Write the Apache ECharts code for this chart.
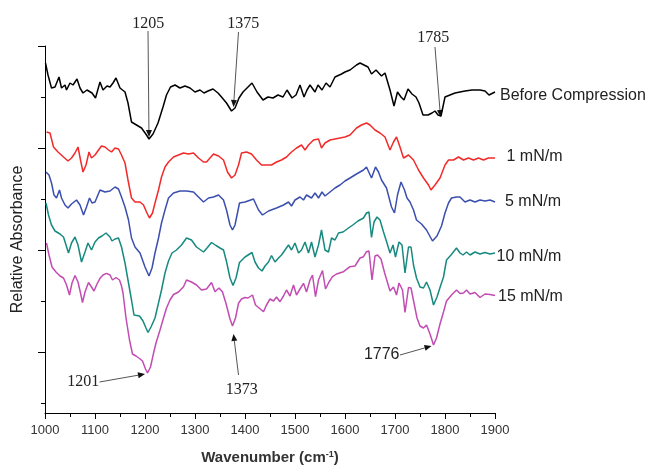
<!DOCTYPE html>
<html>
<head>
<meta charset="utf-8">
<script src="https://cdn.jsdelivr.net/npm/echarts@6/dist/echarts.min.js"></script>
<style>
html,body{margin:0;padding:0;background:#fff;}
#chart{width:653px;height:466px;}
</style>
</head>
<body>
<div id="chart"></div>
<script>
// Wavenumber axis ticks (cm^-1)
const xTicks = [1000, 1100, 1200, 1300, 1400, 1500, 1600, 1700, 1800, 1900];
// Relative absorbance (arbitrary, offset) tick positions
const yMajorTicks = [61, 163, 265, 367];
const yMinorTicks = [10, 112, 214, 316];

const seriesNames = ['Before Compression', '1 mN/m', '5 mN/m', '10 mN/m', '15 mN/m'];

// [wavenumber, relative absorbance (offset)]
const beforeCompression = [[1001,350],[1006,338],[1013,325],[1020,326],[1028,336],[1033,325],[1040,328],[1043,323],[1050,330],[1056,328],[1064,334],[1070,325],[1076,320],[1084,323],[1094,320],[1101,315],[1110,331],[1116,323],[1124,327],[1130,326],[1136,330],[1142,335],[1150,325],[1160,321],[1166,310],[1173,291],[1183,288],[1193,285],[1203,278],[1208,274],[1216,279],[1226,290],[1236,306],[1243,318],[1251,326],[1260,328],[1270,325],[1280,327],[1290,325],[1300,321],[1310,323],[1318,320],[1326,322],[1336,324],[1346,320],[1353,316],[1363,310],[1373,302],[1380,305],[1388,315],[1396,321],[1406,326],[1414,330],[1424,321],[1436,313],[1446,316],[1456,315],[1466,318],[1476,316],[1484,323],[1494,315],[1502,318],[1510,328],[1518,316],[1524,323],[1530,328],[1540,321],[1546,328],[1554,323],[1562,330],[1570,326],[1580,336],[1593,339],[1600,341],[1610,343],[1623,348],[1630,350],[1646,346],[1653,339],[1662,343],[1673,337],[1680,340],[1690,323],[1698,307],[1705,321],[1712,316],[1718,313],[1726,324],[1734,319],[1742,316],[1748,310],[1756,298],[1766,298],[1774,300],[1780,302],[1786,298],[1792,297],[1800,316],[1810,318],[1820,320],[1840,322],[1854,323],[1870,323],[1880,322],[1888,318],[1900,321]];

const p1 = [[1003,281],[1010,280],[1017,266],[1026,261],[1037,256],[1046,252],[1053,255],[1060,260],[1066,266],[1071,253],[1076,241],[1082,248],[1088,261],[1093,255],[1100,258],[1107,263],[1113,267],[1120,266],[1127,263],[1133,261],[1140,265],[1147,264],[1153,258],[1160,250],[1166,233],[1173,215],[1180,211],[1190,211],[1197,208],[1203,201],[1209,195],[1215,200],[1220,210],[1227,223],[1233,236],[1240,246],[1247,251],[1257,256],[1267,258],[1277,260],[1287,259],[1297,260],[1307,255],[1317,251],[1323,251],[1337,259],[1347,257],[1357,253],[1365,241],[1373,235],[1380,238],[1387,248],[1393,260],[1403,261],[1413,259],[1423,253],[1433,248],[1443,248],[1453,248],[1463,251],[1473,253],[1483,256],[1493,261],[1503,265],[1513,268],[1520,263],[1527,268],[1537,273],[1547,274],[1553,265],[1560,270],[1570,273],[1580,274],[1590,275],[1600,276],[1610,278],[1623,285],[1633,288],[1643,290],[1650,288],[1660,283],[1670,280],[1680,276],[1690,263],[1697,271],[1703,276],[1710,266],[1717,255],[1727,258],[1737,253],[1747,243],[1757,235],[1767,228],[1772,223],[1780,228],[1790,235],[1800,248],[1807,253],[1817,253],[1827,256],[1837,253],[1847,255],[1857,253],[1867,255],[1877,253],[1887,255],[1900,255]];

const p5 = [[1002,241],[1008,238],[1013,230],[1018,218],[1023,215],[1029,223],[1033,215],[1040,208],[1046,205],[1053,209],[1063,213],[1070,208],[1077,198],[1083,206],[1089,215],[1094,210],[1100,211],[1110,223],[1120,221],[1130,222],[1140,226],[1147,224],[1153,216],[1160,206],[1167,193],[1173,175],[1180,166],[1190,160],[1200,146],[1208,137],[1214,145],[1220,160],[1227,175],[1233,190],[1240,203],[1247,215],[1257,220],[1270,222],[1283,222],[1297,221],[1307,216],[1317,211],[1327,215],[1337,216],[1347,218],[1357,213],[1363,203],[1370,188],[1375,183],[1380,188],[1389,210],[1400,211],[1417,214],[1427,203],[1435,198],[1447,202],[1463,205],[1477,208],[1487,211],[1493,207],[1500,213],[1510,216],[1517,213],[1523,218],[1533,215],[1540,220],[1547,215],[1554,221],[1560,217],[1570,221],[1580,225],[1590,228],[1600,232],[1610,235],[1623,239],[1637,243],[1643,246],[1653,235],[1661,246],[1667,241],[1673,233],[1683,225],[1693,206],[1699,200],[1705,218],[1712,231],[1719,223],[1724,215],[1730,211],[1737,203],[1743,193],[1753,189],[1763,183],[1775,172],[1784,177],[1793,187],[1800,200],[1807,210],[1813,215],[1823,216],[1830,216],[1840,211],[1850,213],[1860,211],[1870,213],[1880,212],[1890,213],[1900,211]];

const p10 = [[1002,210],[1007,198],[1013,188],[1020,182],[1030,179],[1037,176],[1042,168],[1047,160],[1053,170],[1060,176],[1066,168],[1073,151],[1080,161],[1086,170],[1093,163],[1100,171],[1107,175],[1114,177],[1122,180],[1130,176],[1134,172],[1140,174],[1147,175],[1153,166],[1160,150],[1167,130],[1173,113],[1178,98],[1189,97],[1196,92],[1202,85],[1206,80.5],[1212,86],[1220,95],[1227,110],[1233,123],[1240,140],[1247,152],[1254,160],[1263,163],[1273,168],[1283,175],[1293,173],[1303,166],[1317,161],[1324,165],[1333,170.5],[1342,167.5],[1350,165],[1357,163],[1363,151.5],[1370,135],[1376,127.5],[1382,135],[1389,150.5],[1400,156],[1414,160.5],[1420,151],[1427,145],[1434,142],[1440,147],[1447,151],[1453,157.5],[1460,151],[1467,155],[1473,158],[1480,163],[1487,168],[1493,163],[1500,170],[1507,160],[1513,163],[1520,171],[1527,160],[1533,171],[1540,156],[1547,168],[1553,183],[1560,163],[1567,161],[1573,175],[1580,173],[1587,180],[1596,181],[1607,185],[1617,188.5],[1626,192],[1637,195],[1643,200],[1648,201],[1653,175.5],[1658,191],[1664,196],[1670,193],[1677,181],[1684,170],[1690,160],[1696,168],[1701,156],[1708,171],[1714,168],[1720,140],[1727,166],[1732,166],[1737,148],[1743,135],[1750,126],[1757,125],[1763,131],[1770,123],[1777,108],[1784,116],[1790,125.5],[1797,136],[1803,153],[1812,158],[1823,165],[1830,160],[1836,158],[1843,161],[1850,158],[1860,161],[1870,159],[1880,160.5],[1890,159],[1900,160]];

const p15 = [[1003,170],[1008,158],[1014,146],[1022,141],[1030,137],[1037,135],[1043,128],[1049,118],[1054,130],[1060,137.5],[1066,131],[1071,120],[1075,110.5],[1080,121],[1087,130.5],[1093,126],[1098,122],[1104,129],[1110,134.7],[1116,138],[1123,139.7],[1130,138],[1135,133],[1142,135.5],[1149,133],[1153,127],[1156,120],[1162,95],[1169,73],[1175,59],[1182,57],[1189,54.5],[1195,52],[1201,44],[1205,40],[1211,46],[1217,59.7],[1222,70],[1230,83],[1237,95],[1243,105],[1250,113],[1257,118.5],[1267,121],[1277,126.3],[1283,133],[1293,131],[1303,128],[1313,123],[1323,124],[1333,130.5],[1340,121.3],[1348,125],[1355,121],[1362,109.5],[1370,94],[1375,87],[1381,95],[1387,109.7],[1393,114],[1400,115.5],[1406,115],[1415,118],[1421,108],[1427,105.5],[1437,101.3],[1443,108],[1450,114],[1457,112],[1463,116],[1470,111.3],[1477,117],[1483,123],[1490,117],[1497,128],[1503,118],[1510,124],[1517,129.7],[1523,121],[1530,133],[1535,138],[1541,116.3],[1547,133],[1555,142.5],[1561,124],[1568,131],[1575,136.3],[1583,139],[1597,141.3],[1610,146.3],[1620,147],[1630,155],[1637,156.3],[1643,161.3],[1648,162],[1654,133],[1660,157],[1665,158],[1672,154],[1679,140.5],[1690,122],[1697,126],[1703,118],[1708,130],[1711,132],[1715,123],[1720,100.5],[1727,125.5],[1732,125],[1738,110],[1744,95],[1750,87],[1757,85],[1763,88],[1770,79],[1777,68],[1783,75],[1790,89],[1797,101],[1803,112],[1813,118],[1823,123],[1830,119.5],[1837,120],[1843,123],[1850,119],[1860,120.5],[1870,115.5],[1880,119],[1890,118.5],[1900,117.5]];

const seriesData = [beforeCompression, p1, p5, p10, p15];
const seriesColors = ['#000000', '#f22a2a', '#3b4fae', '#178a80', '#c24cb2'];

// Legend-like labels at right end, anchored in data space
const seriesLabelAnchors = [[1910, 317], [1923, 256], [1920, 211], [1903, 156], [1906, 116]];

// Peak annotations: text, label anchor, arrow start, arrow tip (data space), font family
const annotationTexts = ['1205', '1375', '1785', '1201', '1373', '1776'];
const annotationLabelAt = [[1206.6, 389.7], [1396.6, 389.7], [1776.6, 375.3], [1076.6, 31.3], [1393.4, 23], [1673.4, 58]];
const annotationArrowFrom = [[1206, 382], [1387, 381], [1780, 366], [1109, 31], [1387, 38], [1710, 58]];
const annotationArrowTo = [[1208, 276], [1377, 306], [1791, 296], [1200, 39], [1377, 79], [1773, 67]];
const annotationSerif = [true, true, true, true, true, false];

const chart = echarts.init(document.getElementById('chart'), null, {renderer: 'canvas'});

const option = {
  animation: false,
  backgroundColor: '#ffffff',
  grid: {left: 45, right: 158, top: 46, bottom: 53, containLabel: false, outerBoundsMode: 'none'},
  xAxis: {
    type: 'value',
    min: xTicks[0],
    max: xTicks[xTicks.length - 1],
    interval: 100,
    name: '{a|Wavenumber (cm}{b|-1}{a|)}',
    nameLocation: 'middle',
    nameGap: 37,
    nameTextStyle: {
      rich: {
        a: {fontFamily: 'Liberation Sans, Arial, sans-serif', fontSize: 15, fontWeight: 'bold', color: '#333'},
        b: {fontFamily: 'Liberation Sans, Arial, sans-serif', fontSize: 9, fontWeight: 'bold', color: '#333', verticalAlign: 'top', lineHeight: 16}
      }
    },
    axisLine: {show: true, lineStyle: {color: '#000', width: 1}},
    axisTick: {show: true, inside: false, length: 6, lineStyle: {color: '#000'}},
    minorTick: {show: true, splitNumber: 2, length: 4, lineStyle: {color: '#000'}},
    axisLabel: {color: '#333', fontSize: 13, margin: 11, fontFamily: 'Liberation Sans, Arial, sans-serif', formatter: v => String(v)},
    splitLine: {show: false}
  },
  yAxis: [
    {
      type: 'value',
      min: 0,
      max: 367,
      position: 'left',
      name: 'Relative Absorbance',
      nameLocation: 'middle',
      nameGap: 19,
      nameTextStyle: {color: '#222', fontSize: 16, fontFamily: 'Liberation Sans, Arial, sans-serif', padding: [0, 20, 0, 0]},
      axisLine: {show: true, lineStyle: {color: '#000', width: 1}},
      axisTick: {show: true, inside: false, length: 7, customValues: yMajorTicks, lineStyle: {color: '#000'}},
      axisLabel: {show: false},
      splitLine: {show: false}
    },
    {
      type: 'value',
      min: 0,
      max: 367,
      position: 'left',
      axisLine: {show: false},
      axisTick: {show: true, inside: false, length: 4, customValues: yMinorTicks, lineStyle: {color: '#000'}},
      axisLabel: {show: false},
      splitLine: {show: false}
    }
  ],
  series: seriesData.map((d, i) => ({
    name: seriesNames[i],
    type: 'line',
    data: d,
    yAxisIndex: 0,
    symbol: 'none',
    smooth: false,
    clip: false,
    lineStyle: {color: seriesColors[i], width: 1.5}
  }))
};

chart.setOption(option);

function px(p) { return chart.convertToPixel({seriesIndex: 0}, p); }

const graphics = [];
seriesNames.forEach((name, i) => {
  const p = px(seriesLabelAnchors[i]);
  graphics.push({
    type: 'text', x: p[0], y: p[1], silent: true,
    style: {text: name, fill: '#222', font: '16px "Liberation Sans", Arial, sans-serif', textAlign: 'left', textVerticalAlign: 'middle', verticalAlign: 'middle'}
  });
});

annotationTexts.forEach((t, i) => {
  const lp = px(annotationLabelAt[i]);
  const s = px(annotationArrowFrom[i]);
  const e = px(annotationArrowTo[i]);
  const dx = e[0] - s[0], dy = e[1] - s[1];
  const len = Math.sqrt(dx * dx + dy * dy);
  const ux = dx / len, uy = dy / len;
  const L = 7, W = 3;
  const bx = e[0] - L * ux, by = e[1] - L * uy;
  graphics.push({
    type: 'line', silent: true,
    shape: {x1: s[0], y1: s[1], x2: bx, y2: by},
    style: {stroke: '#555', lineWidth: 1}
  });
  graphics.push({
    type: 'polygon', silent: true,
    shape: {points: [[e[0], e[1]], [bx - W * uy, by + W * ux], [bx + W * uy, by - W * ux]]},
    style: {fill: '#111'}
  });
  graphics.push({
    type: 'text', x: lp[0], y: lp[1], silent: true,
    style: {
      text: t, fill: '#222',
      font: annotationSerif[i] ? '16px "Liberation Serif", "Times New Roman", serif' : '16px "Liberation Sans", Arial, sans-serif',
      textAlign: 'center', textVerticalAlign: 'middle', verticalAlign: 'middle'
    }
  });
});

chart.setOption({graphic: graphics});
</script>
</body>
</html>
